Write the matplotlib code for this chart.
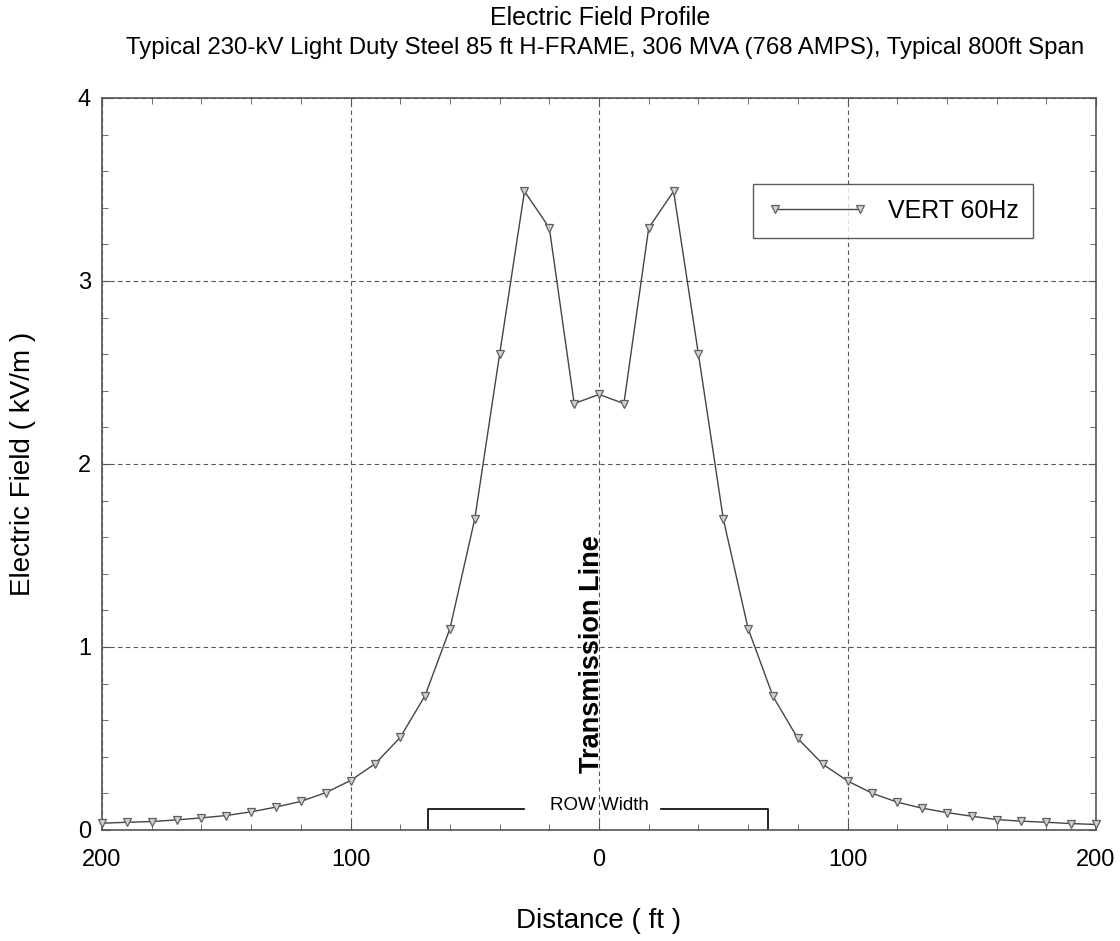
import numpy as np
import matplotlib
matplotlib.use("Agg")
import matplotlib.pyplot as plt
from matplotlib.ticker import MultipleLocator, FuncFormatter

plt.rcParams['font.family'] = ['Liberation Sans', 'DejaVu Sans']

# distance from centerline (ft) and vertical E-field (kV/m)
distance = np.arange(-200, 201, 10)
efield = [0.037, 0.042, 0.046, 0.055, 0.066, 0.079, 0.099, 0.125, 0.156, 0.204,
          0.27, 0.363, 0.506, 0.734, 1.10, 1.70, 2.60, 3.49, 3.29, 2.33,
          2.38,
          2.33, 3.29, 3.49, 2.60, 1.70, 1.10, 0.73, 0.50, 0.36, 0.268,
          0.20, 0.152, 0.119, 0.095, 0.075, 0.057, 0.048, 0.042, 0.035, 0.03]
row_half = 69

fig = plt.figure(figsize=(11.2, 9.41), dpi=100)
ax = fig.add_axes([0.0911, 0.118, 0.8875, 0.7779])

ax.plot(distance, efield, color='#444444', lw=1.0, marker='v', markersize=6,
        markerfacecolor='#d0d0d0', markeredgecolor='#606060', markeredgewidth=0.9,
        label='VERT 60Hz', clip_on=False, zorder=3)

ax.set_xlim(-200, 200)
ax.set_ylim(0, 4)
ax.xaxis.set_major_locator(MultipleLocator(100))
ax.xaxis.set_minor_locator(MultipleLocator(20))
ax.yaxis.set_major_locator(MultipleLocator(1))
ax.yaxis.set_minor_locator(MultipleLocator(0.2))
ax.xaxis.set_major_formatter(FuncFormatter(lambda v, p: '%d' % abs(v)))
ax.tick_params(which='both', direction='in', top=True, right=True, color='#555555')
ax.tick_params(which='major', length=6, labelsize=17)
ax.tick_params(axis='x', which='major', pad=14)
ax.tick_params(axis='y', which='major', pad=8)
ax.tick_params(which='minor', length=4)
ax.grid(True, which='major', linestyle=(0, (4, 3)), color='#555555', lw=0.8)
for s in ax.spines.values():
    s.set_color('#555555')
    s.set_linewidth(1.2)

ax.set_xlabel('Distance ( ft )', fontsize=20, labelpad=26)
ax.set_ylabel('Electric Field ( kV/m )', fontsize=20, labelpad=30)

fig.text(0.536, 0.981, 'Electric Field Profile', ha='center', va='center',
         fontsize=18)
fig.text(0.540, 0.949,
         'Typical 230-kV Light Duty Steel 85 ft H-FRAME, 306 MVA (768 AMPS), Typical 800ft Span',
         ha='center', va='center', fontsize=17.3)

# ROW width bracket
ax.plot([-row_half, -row_half, -30], [0, 0.115, 0.115], color='black', lw=1.2)
ax.plot([25, row_half - 1, row_half - 1], [0.115, 0.115, 0], color='black', lw=1.2)
ax.text(0, 0.135, 'ROW Width', ha='center', va='center', fontsize=13.5)

ax.text(-3, 0.96, 'Transmission Line', rotation=90, ha='center', va='center',
        fontsize=19.5, fontweight='bold')

leg = ax.legend(loc='upper right', bbox_to_anchor=(0.937, 0.883), fontsize=18,
                frameon=True, fancybox=False, numpoints=2, handlelength=4.0,
                borderpad=0.6, handletextpad=0.8, borderaxespad=0)
leg.get_frame().set_edgecolor('#333333')
leg.get_frame().set_linewidth(1.0)

fig.savefig('out.png', dpi=100)
